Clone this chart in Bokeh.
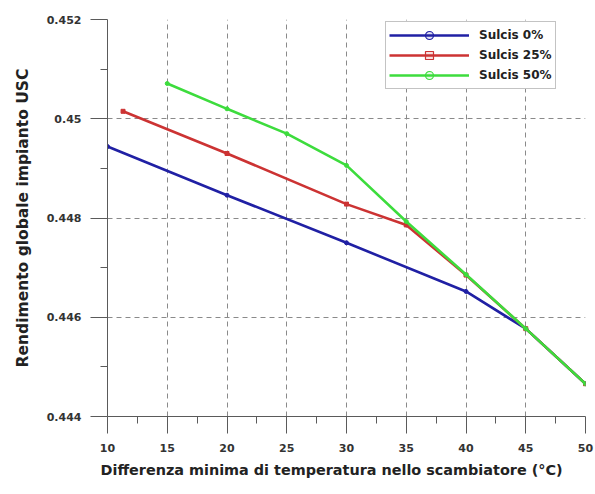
import numpy as np
from bokeh.plotting import figure
from bokeh.models import Range1d, FixedTicker, Legend, LegendItem, ColumnDataSource, Title
from bokeh.embed import file_html
from bokeh.resources import INLINE

# ---- data ----
x_ticks = [10, 15, 20, 25, 30, 35, 40, 45, 50]
y_ticks = [0.444, 0.446, 0.448, 0.450, 0.452]
y_tick_labels = ["0.444", "0.446", "0.448", "0.45", "0.452"]

series_names = ["Sulcis 0%", "Sulcis 25%", "Sulcis 50%"]
x_s0 = [10, 20, 30, 40, 45, 50]
y_s0 = [0.44944, 0.44846, 0.44750, 0.44652, 0.44577, 0.44466]
x_s25 = [11.3, 20, 30, 35, 40, 45, 50]
y_s25 = [0.45015, 0.44930, 0.44828, 0.44786, 0.44685, 0.44577, 0.44466]
x_s50 = [15, 20, 25, 30, 35, 40, 45, 50]
y_s50 = [0.45071, 0.45020, 0.44970, 0.44906, 0.44793, 0.44686, 0.44577, 0.44466]

x_title = "Differenza minima di temperatura nello scambiatore (°C)"
y_title = "Rendimento globale impianto USC"

colors = ["#2020a4", "#cc3333", "#3ddc3d"]
markers = ["circle", "square", "circle"]

FONT = "DejaVu Sans"

p = figure(width=595, height=494, output_backend="svg", toolbar_location=None,
           x_range=Range1d(10, 50), y_range=Range1d(0.444, 0.452),
           min_border_left=107, min_border_right=10, min_border_top=19, min_border_bottom=78)
p.outline_line_color = None
p.background_fill_color = "white"
p.border_fill_color = "white"

x_minor = [(a + b) / 2 for a, b in zip(x_ticks[:-1], x_ticks[1:])]
y_minor = [(a + b) / 2 for a, b in zip(y_ticks[:-1], y_ticks[1:])]

p.xaxis.ticker = FixedTicker(ticks=x_ticks, minor_ticks=x_minor)
p.yaxis.ticker = FixedTicker(ticks=y_ticks, minor_ticks=y_minor)
p.xgrid.ticker = FixedTicker(ticks=x_ticks)
p.ygrid.ticker = FixedTicker(ticks=y_ticks)
p.yaxis.major_label_overrides = {t: l for t, l in zip(y_ticks, y_tick_labels)}

for ax in (p.xaxis[0], p.yaxis[0]):
    ax.axis_line_color = "#5a5a5a"
    ax.major_tick_line_color = "#5a5a5a"
    ax.minor_tick_line_color = "#5a5a5a"
    ax.major_tick_out = 17
    ax.major_tick_in = 0
    ax.minor_tick_out = 7
    ax.minor_tick_in = 0
    ax.major_label_text_font = FONT
    ax.major_label_text_font_style = "bold"
    ax.major_label_text_font_size = "11px"
    ax.major_label_text_color = "#333333"
    ax.axis_label_text_font = FONT
    ax.axis_label_text_font_style = "bold"
    ax.axis_label_text_color = "#222222"

p.xaxis.major_label_standoff = 10
p.yaxis.major_label_standoff = 9
p.yaxis.axis_label = y_title
p.yaxis.axis_label_text_font_size = "15.5px"
p.yaxis.axis_label_standoff = 12

# x-axis title, starting slightly left of the frame as in the reference
p.add_layout(Title(text=x_title, align="left", offset=-7,
                   text_font=FONT, text_font_style="bold", text_font_size="14.4px",
                   text_color="#222222"), "below")

for g in (p.xgrid[0], p.ygrid[0]):
    g.grid_line_color = "#8a8a8a"
    g.grid_line_dash = "5 4"
    g.grid_line_width = 1

xs = [x_s0, x_s25, x_s50]
ys = [y_s0, y_s25, y_s50]

items = []
for name, x, y, c, m in zip(series_names, xs, ys, colors, markers):
    src = ColumnDataSource(dict(x=x, y=y))
    p.line("x", "y", source=src, line_color=c, line_width=2.6)
    p.scatter("x", "y", source=src, marker=m, size=4, line_color=c, fill_color=c)
    dummy = ColumnDataSource(dict(x=[np.nan], y=[np.nan]))
    lr = p.line("x", "y", source=dummy, line_color=c, line_width=2.6)
    mr = p.scatter("x", "y", source=dummy, marker=m, size=10, line_color=c,
                   fill_color=c, fill_alpha=0.15, line_width=1.2)
    items.append(LegendItem(label=name, renderers=[lr, mr]))

legend = Legend(items=items, location=(278, 327))
legend.label_text_font = FONT
legend.label_text_font_style = "bold"
legend.label_text_font_size = "12px"
legend.label_text_color = "#222222"
legend.glyph_width = 80
legend.glyph_height = 20
legend.spacing = 0
legend.padding = 3
legend.margin = 0
legend.label_standoff = 10
legend.border_line_color = "#888888"
legend.border_line_width = 1
legend.background_fill_color = "white"
legend.background_fill_alpha = 1.0
p.add_layout(legend, "center")

open("out.html", "w").write(file_html(p, INLINE))
